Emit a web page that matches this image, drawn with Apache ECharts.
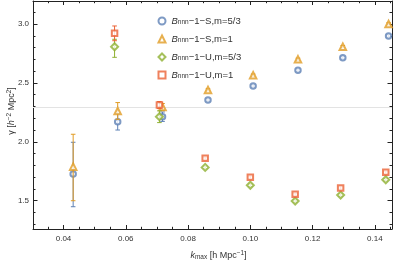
<!DOCTYPE html>
<html>
<head>
<meta charset="utf-8">
<script src="https://cdn.jsdelivr.net/npm/echarts@6/dist/echarts.min.js"></script>
<style>
html,body{margin:0;padding:0;background:#fff;}
#c{width:407px;height:264px;}
</style>
</head>
<body>
<div id="c"></div>
<script>
// ---- data ----
const kS = [0.0431, 0.0574, 0.0718, 0.0864, 0.1009, 0.1153, 0.1297, 0.1444];
const kU = [0.0564, 0.0708, 0.0855, 0.1000, 0.1144, 0.1290, 0.1435];

const gammaS53 = [1.727, 2.170, 2.213, 2.355, 2.474, 2.607, 2.714, 2.898];
const gammaS1  = [1.789, 2.261, 2.295, 2.440, 2.565, 2.700, 2.807, 3.000];
const gammaU53 = [2.807, 2.213, 1.783, 1.631, 1.497, 1.548, 1.678];
const gammaU1  = [2.921, 2.312, 1.860, 1.699, 1.554, 1.608, 1.741];

const errS53Lo = [0.278, 0.070, 0.040, 0.010, 0.010, 0.010, 0.010, 0.010];
const errS53Hi = [0.269, 0.070, 0.040, 0.010, 0.010, 0.010, 0.010, 0.010];
const errS1Lo  = [0.289, 0.070, 0.030, 0.010, 0.010, 0.010, 0.010, 0.010];
const errS1Hi  = [0.275, 0.072, 0.030, 0.010, 0.010, 0.010, 0.010, 0.010];
const errU53Lo = [0.090, 0.050, 0.010, 0.010, 0.010, 0.010, 0.010];
const errU53Hi = [0.063, 0.050, 0.010, 0.010, 0.010, 0.010, 0.010];
const errU1Lo  = [0.063, 0.030, 0.010, 0.010, 0.010, 0.010, 0.010];
const errU1Hi  = [0.062, 0.030, 0.010, 0.010, 0.010, 0.010, 0.010];

const seriesNames = ['Bnnn-1-S,m=5/3', 'Bnnn-1-S,m=1', 'Bnnn-1-U,m=5/3', 'Bnnn-1-U,m=1'];
const legendSuffix = ['\u22121\u2212S,m=5/3', '\u22121\u2212S,m=1', '\u22121\u2212U,m=5/3', '\u22121\u2212U,m=1'];

const xMajorTicks = [0.04, 0.06, 0.08, 0.10, 0.12, 0.14];
const xMinorTicks = [0.035, 0.045, 0.05, 0.055, 0.065, 0.07, 0.075, 0.085, 0.09, 0.095, 0.105, 0.11, 0.115, 0.125, 0.13, 0.135, 0.145];
const yMajorTicks = [1.5, 2.0, 2.5, 3.0];
const yMinorTicks = [1.3, 1.4, 1.6, 1.7, 1.8, 1.9, 2.1, 2.2, 2.3, 2.4, 2.6, 2.7, 2.8, 2.9, 3.1];
const refLine = 2.293;

// ---- styling ----
const colors = ['#5E81B5', '#E19C24', '#8FB032', '#EB6235'];
const symbols = ['emptyCircle', 'emptyTriangle', 'emptyDiamond', 'emptyRect'];
const symSizes = [5.5, 6.5, 7, 5.5];
const frameColor = '#222';
const textColor = '#333';
const FONT = 'Liberation Sans, Arial, sans-serif';
const X_MIN = 0.0302, X_MAX = 0.1455, Y_MIN = 1.26, Y_MAX = 3.195;

function xAxisDef(pos, ticks, len, labels, line) {
  return {
    type: 'value', position: pos, min: X_MIN, max: X_MAX,
    axisLine: {show: line, onZero: false, lineStyle: {color: frameColor, width: 1}},
    axisTick: {show: true, inside: true, length: len, customValues: ticks, lineStyle: {color: frameColor, width: 1}},
    axisLabel: labels ? {show: true, customValues: ticks, fontSize: 8, color: textColor, fontFamily: FONT, margin: 6,
      formatter: v => v.toFixed(2)} : {show: false},
    splitLine: {show: false}
  };
}
function yAxisDef(pos, ticks, len, labels, line) {
  return {
    type: 'value', position: pos, min: Y_MIN, max: Y_MAX,
    axisLine: {show: line, onZero: false, lineStyle: {color: frameColor, width: 1}},
    axisTick: {show: true, inside: true, length: len, customValues: ticks, lineStyle: {color: frameColor, width: 1}},
    axisLabel: labels ? {show: true, customValues: ticks, fontSize: 8, color: textColor, fontFamily: FONT, margin: 4,
      formatter: v => v.toFixed(1)} : {show: false},
    splitLine: {show: false}
  };
}

const xAxes = [
  xAxisDef('bottom', xMajorTicks, 4, true, true),
  xAxisDef('bottom', xMinorTicks, 2.2, false, false),
  xAxisDef('top', xMajorTicks, 4, false, true),
  xAxisDef('top', xMinorTicks, 2.2, false, false)
];
xAxes[0].name = '{i|k}{sub|max} [h Mpc{sup|\u22121}]';
xAxes[0].nameLocation = 'middle';
xAxes[0].nameGap = 21;
xAxes[0].nameMoveOverlap = false;
xAxes[0].nameTextStyle = {
  fontSize: 9, color: textColor, fontFamily: FONT, lineHeight: 11, padding: [0, 0, 0, 12],
  rich: {
    i: {fontStyle: 'italic', fontSize: 9, color: textColor, lineHeight: 11, verticalAlign: 'middle'},
    sub: {fontSize: 6.5, color: textColor, lineHeight: 11, verticalAlign: 'bottom'},
    sup: {fontSize: 6.5, color: textColor, lineHeight: 11, verticalAlign: 'top'}
  }
};

const yAxes = [
  yAxisDef('left', yMajorTicks, 4.5, true, true),
  yAxisDef('left', yMinorTicks, 2.5, false, false),
  yAxisDef('right', yMajorTicks, 4.5, false, true),
  yAxisDef('right', yMinorTicks, 2.5, false, false)
];
yAxes[0].name = '\u03B3 [{i|h}{sup|\u22122} Mpc{sup|2}]';
yAxes[0].nameLocation = 'middle';
yAxes[0].nameGap = 16;
yAxes[0].nameMoveOverlap = false;
yAxes[0].nameTextStyle = {
  fontSize: 9, color: textColor, fontFamily: FONT, lineHeight: 11, padding: [0, 0, 0, 8],
  rich: {
    i: {fontStyle: 'italic', fontSize: 9, color: textColor, lineHeight: 11, verticalAlign: 'middle'},
    sup: {fontSize: 6.5, color: textColor, lineHeight: 11, verticalAlign: 'top'}
  }
};

function errorSeries(idx, xs, ys, lo, hi) {
  const color = colors[idx];
  return {
    type: 'custom', name: seriesNames[idx] + ' err', z: 2 + idx * 2, silent: true,
    xAxisIndex: 0, yAxisIndex: 0,
    data: xs.map((x, i) => [x, ys[i] - lo[i], ys[i] + hi[i]]),
    encode: {x: 0, y: [1, 2]},
    renderItem: function (params, api) {
      const a = api.coord([api.value(0), api.value(1)]);
      const b = api.coord([api.value(0), api.value(2)]);
      const w = 2.3;
      const st = {stroke: color, lineWidth: 1};
      return {type: 'group', children: [
        {type: 'line', shape: {x1: a[0], y1: a[1], x2: b[0], y2: b[1]}, style: st},
        {type: 'line', shape: {x1: a[0] - w, y1: a[1], x2: a[0] + w, y2: a[1]}, style: st},
        {type: 'line', shape: {x1: b[0] - w, y1: b[1], x2: b[0] + w, y2: b[1]}, style: st}
      ]};
    }
  };
}
function pointSeries(idx, xs, ys) {
  return {
    type: 'scatter', name: seriesNames[idx], z: 3 + idx * 2,
    xAxisIndex: 0, yAxisIndex: 0,
    symbol: symbols[idx], symbolSize: symSizes[idx],
    itemStyle: {color: colors[idx], borderWidth: 1.6},
    data: xs.map((x, i) => [x, ys[i]])
  };
}

const series = [
  {
    type: 'line', name: 'ref', data: [], z: 1, silent: true, xAxisIndex: 0, yAxisIndex: 0,
    markLine: {silent: true, symbol: 'none', label: {show: false},
      lineStyle: {color: '#e3e3e3', width: 1, type: 'solid'},
      data: [{yAxis: refLine}]}
  },
  errorSeries(0, kS, gammaS53, errS53Lo, errS53Hi), pointSeries(0, kS, gammaS53),
  errorSeries(1, kS, gammaS1, errS1Lo, errS1Hi), pointSeries(1, kS, gammaS1),
  errorSeries(2, kU, gammaU53, errU53Lo, errU53Hi), pointSeries(2, kU, gammaU53),
  errorSeries(3, kU, gammaU1, errU1Lo, errU1Hi), pointSeries(3, kU, gammaU1)
];

const chart = echarts.init(document.getElementById('c'), null, {renderer: 'canvas'});
chart.setOption({
  animation: false,
  backgroundColor: '#fff',
  grid: {left: 33, right: 15, top: 1, bottom: 35, containLabel: false, outerBoundsMode: 'none'},
  xAxis: xAxes,
  yAxis: yAxes,
  legend: {
    orient: 'vertical', left: 157.5, top: 16, padding: 0,
    data: seriesNames,
    itemWidth: 7, itemHeight: 7, itemGap: 8,
    itemStyle: {borderWidth: 1.2},
    selectedMode: false,
    formatter: function (name) {
      const i = seriesNames.indexOf(name);
      return '{b|B}{s|nnn}' + legendSuffix[i];
    },
    textStyle: {
      fontSize: 9.5, color: textColor, fontFamily: FONT, lineHeight: 10, padding: [0, 0, 0, 1],
      rich: {
        b: {fontStyle: 'italic', fontSize: 9.5, color: textColor, lineHeight: 10, verticalAlign: 'middle'},
        s: {fontSize: 6.5, color: textColor, lineHeight: 10, verticalAlign: 'bottom'}
      }
    }
  },
  series: series
});
</script>
</body>
</html>
